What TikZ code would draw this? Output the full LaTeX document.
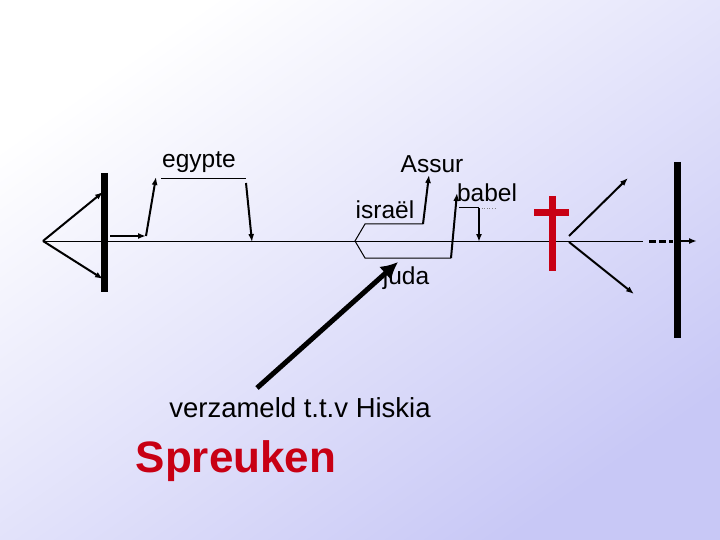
\documentclass[tikz,border=0pt]{standalone}
\usepackage{fontspec}
\setmainfont{Liberation Sans}
\usetikzlibrary{arrows.meta}
\definecolor{lavender}{RGB}{200,200,246}
\definecolor{crossred}{RGB}{200,0,20}
\tikzset{
  timeline/.style={line width=1pt},
  move/.style={line width=2pt,-{Latex[length=8pt,width=6pt]}},
  bar/.style={line width=7pt},
  lbl/.style={font=\fontsize{24.5}{28}\selectfont,inner sep=0pt}
}
\begin{document}
\begin{tikzpicture}[x=1pt,y=-1pt]
  \shade[shading=axis,top color=white,bottom color=lavender,shading angle=35]
    (0,0) rectangle (720,540);
  \useasboundingbox (0,0) rectangle (720,540);
  % tijdlijn
  \coordinate (start) at (43,241);
  \coordinate (lineend) at (643,241);
  \draw[timeline] (start) -- (lineend);
  \coordinate (dashA) at (649,241);
  \coordinate (dashB) at (673,241);
  \draw[line width=3pt,dash pattern=on 7pt off 3pt] (dashA) -- (dashB);
  \coordinate (outA) at (677,241);
  \coordinate (outB) at (697,241);
  \draw[move] (outA) -- (outB);
  % balken
  \coordinate (leftT) at (104,173);
  \coordinate (leftB) at (104,292);
  \draw[bar] (leftT) -- (leftB);
  \coordinate (rightT) at (677,162);
  \coordinate (rightB) at (677,338);
  \draw[bar] (rightT) -- (rightB);
  % begin
  \coordinate (wedgeU) at (103,192);
  \coordinate (wedgeD) at (103,279);
  \draw[move] (start) -- (wedgeU);
  \draw[move] (start) -- (wedgeD);
  % egypte
  \coordinate (eg1) at (110,236);
  \coordinate (eg2) at (146,236);
  \coordinate (eg3) at (156,177);
  \draw[move] (eg1) -- (eg2);
  \draw[move] (eg2) -- (eg3);
  \coordinate (egL) at (161,179);
  \coordinate (egR) at (246,179);
  \draw[timeline] (egL) -- (egR);
  \coordinate (eg4) at (246,183);
  \coordinate (eg5) at (252,242);
  \draw[move] (eg4) -- (eg5);
  \node[lbl] (egypte) at (199,162) {egypte};
  % israel en juda
  \coordinate (is1) at (423,224);
  \coordinate (is2) at (365,224);
  \coordinate (split) at (355,241);
  \coordinate (ju1) at (365,258);
  \coordinate (ju2) at (451,258);
  \draw[timeline] (is1) -- (is2) -- (split) -- (ju1) -- (ju2);
  \coordinate (assur) at (429,175);
  \draw[move] (is1) -- (assur);
  \coordinate (babelA) at (457,193);
  \draw[move] (ju2) -- (babelA);
  \coordinate (ba1) at (459,208);
  \coordinate (ba2) at (479,208);
  \coordinate (ba3) at (495,208);
  \draw[timeline] (ba1) -- (ba2);
  \draw[line width=0.6pt,dotted,gray] (ba2) -- (ba3);
  \coordinate (ba4) at (479,242);
  \draw[move] (ba2) -- (ba4);
  \node[lbl] (Assur) at (432,164) {Assur};
  \node[lbl] (israel) at (385,210) {israël};
  \node[lbl] (babel) at (487,193) {babel};
  \node[lbl] (juda) at (406,278) {juda};
  % Hiskia
  \coordinate (hisA) at (257,388);
  \coordinate (hisB) at (398,262);
  \draw[line width=5pt,-{Latex[length=17pt,width=18pt]}] (hisA) -- (hisB);
  \node[lbl,font=\fontsize{27.5}{31}\selectfont] (hiskia) at (300,408) {verzameld t.t.v Hiskia};
  \node[lbl,font=\fontsize{44}{48}\selectfont\bfseries,text=crossred] (spreuken) at (236,461) {Spreuken};
  % kruis
  \coordinate (crossT) at (552,196);
  \coordinate (crossB) at (552,271);
  \coordinate (crossL) at (534,213);
  \coordinate (crossR) at (569,213);
  \draw[bar,crossred] (crossT) -- (crossB);
  \draw[bar,crossred] (crossL) -- (crossR);
  % einde
  \coordinate (endU) at (569,236);
  \coordinate (endD) at (569,242);
  \coordinate (endU2) at (628,178);
  \coordinate (endD2) at (634,294);
  \draw[move] (endU) -- (endU2);
  \draw[move] (endD) -- (endD2);
\end{tikzpicture}
\end{document}
